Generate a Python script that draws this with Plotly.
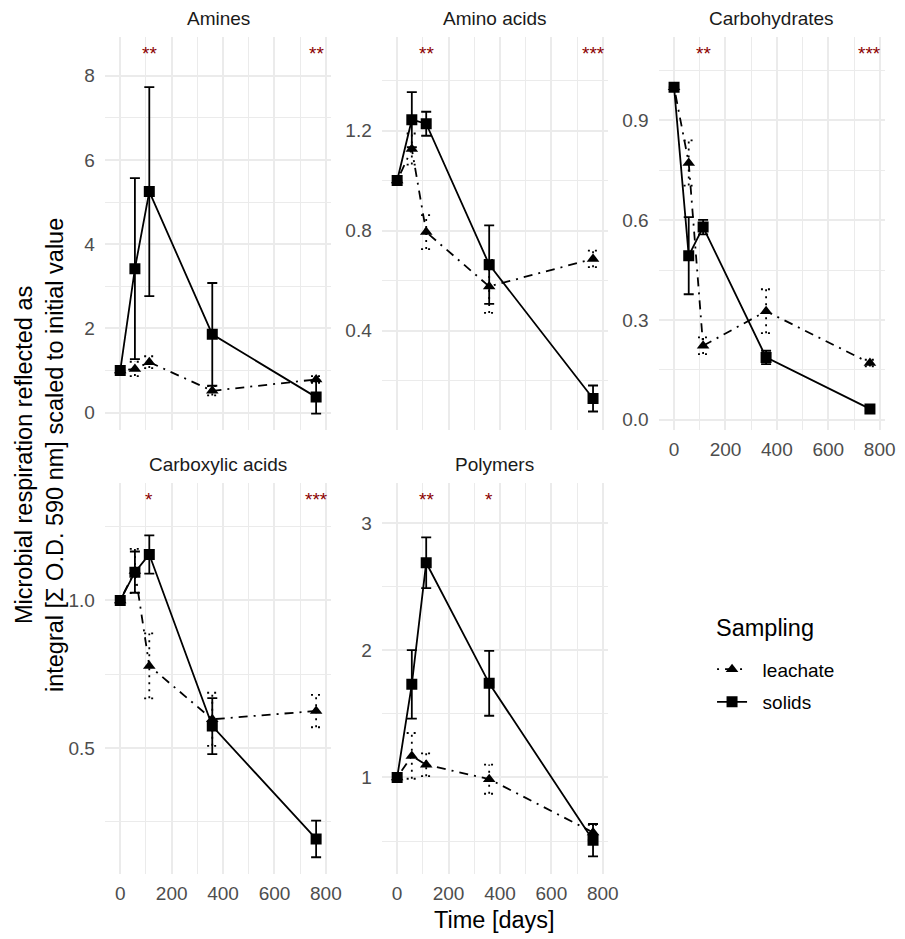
import plotly.graph_objects as go

# Sampling times (days)
days = [0, 57, 113, 358, 762]

# Scaled respiration integrals, mean and error, per substrate group and sampling type
amines_solids = [1.0, 3.42, 5.25, 1.86, 0.37]
amines_solids_err = [0.0, 2.15, 2.48, 1.22, 0.39]
amines_leachate = [1.0, 1.04, 1.20, 0.52, 0.79]
amines_leachate_err = [0.0, 0.17, 0.14, 0.11, 0.08]

amino_solids = [1.0, 1.243, 1.227, 0.664, 0.129]
amino_solids_err = [0.0, 0.11, 0.048, 0.157, 0.052]
amino_leachate = [1.0, 1.126, 0.794, 0.577, 0.687]
amino_leachate_err = [0.0, 0.062, 0.068, 0.106, 0.033]

carbo_solids = [1.0, 0.493, 0.579, 0.187, 0.032]
carbo_solids_err = [0.0, 0.116, 0.022, 0.02, 0.005]
carbo_leachate = [1.0, 0.772, 0.222, 0.326, 0.170]
carbo_leachate_err = [0.0, 0.068, 0.025, 0.066, 0.01]

carboxy_solids = [1.0, 1.096, 1.156, 0.574, 0.191]
carboxy_solids_err = [0.0, 0.07, 0.065, 0.095, 0.062]
carboxy_leachate = [1.0, 1.10, 0.778, 0.597, 0.625]
carboxy_leachate_err = [0.0, 0.075, 0.11, 0.09, 0.055]

poly_solids = [1.0, 1.733, 2.69, 1.741, 0.507]
poly_solids_err = [0.0, 0.27, 0.2, 0.255, 0.127]
poly_leachate = [1.0, 1.17, 1.10, 0.987, 0.568]
poly_leachate_err = [0.0, 0.18, 0.09, 0.115, 0.06]

# Significance markers (time point, label) per group
amines_signif = [(113, "**"), (762, "**")]
amino_signif = [(113, "**"), (762, "***")]
carbo_signif = [(113, "**"), (762, "***")]
carboxy_signif = [(113, "*"), (762, "***")]
poly_signif = [(113, "**"), (358, "*")]

# Y-axis ticks per group
amines_ticks = [0, 2, 4, 6, 8]
amines_ticktext = ["0", "2", "4", "6", "8"]
amino_ticks = [0.4, 0.8, 1.2]
amino_ticktext = ["0.4", "0.8", "1.2"]
carbo_ticks = [0.0, 0.3, 0.6, 0.9]
carbo_ticktext = ["0.0", "0.3", "0.6", "0.9"]
carboxy_ticks = [0.5, 1.0]
carboxy_ticktext = ["0.5", "1.0"]
poly_ticks = [1, 2, 3]
poly_ticktext = ["1", "2", "3"]

x_ticks = [0, 200, 400, 600, 800]
x_ticktext = ["0", "200", "400", "600", "800"]

panels = [
    dict(name="Amines", solids=amines_solids, solids_err=amines_solids_err,
         leach=amines_leachate, leach_err=amines_leachate_err, signif=amines_signif,
         ticks=amines_ticks, ticktext=amines_ticktext, minor=1.0,
         yrange=[-0.40, 8.93], row=0, col=0, xlabels=False),
    dict(name="Amino acids", solids=amino_solids, solids_err=amino_solids_err,
         leach=amino_leachate, leach_err=amino_leachate_err, signif=amino_signif,
         ticks=amino_ticks, ticktext=amino_ticktext, minor=0.2,
         yrange=[0.005, 1.575], row=0, col=1, xlabels=False),
    dict(name="Carbohydrates", solids=carbo_solids, solids_err=carbo_solids_err,
         leach=carbo_leachate, leach_err=carbo_leachate_err, signif=carbo_signif,
         ticks=carbo_ticks, ticktext=carbo_ticktext, minor=0.15,
         yrange=[-0.030, 1.152], row=0, col=2, xlabels=True),
    dict(name="Carboxylic acids", solids=carboxy_solids, solids_err=carboxy_solids_err,
         leach=carboxy_leachate, leach_err=carboxy_leachate_err, signif=carboxy_signif,
         ticks=carboxy_ticks, ticktext=carboxy_ticktext, minor=0.25,
         yrange=[0.072, 1.399], row=1, col=0, xlabels=True),
    dict(name="Polymers", solids=poly_solids, solids_err=poly_solids_err,
         leach=poly_leachate, leach_err=poly_leachate_err, signif=poly_signif,
         ticks=poly_ticks, ticktext=poly_ticktext, minor=0.5,
         yrange=[0.24, 3.319], row=1, col=1, xlabels=True),
]

W, H = 905, 939
col_px = [(106, 335), (386, 615), (666, 895)]
row_px = [(36.7, 430), (483.3, 875)]
x_range = [-60, 821]
cap_days = 20  # half-width of error bar caps, in days

FONT = "Liberation Sans, Arial, Helvetica, sans-serif"
GRID = "#EBEBEB"
TICK_COLOR = "#4D4D4D"
NBSP = "\u00a0"

fig = go.Figure()
layout = dict(
    width=W, height=H,
    margin=dict(l=0, r=0, t=0, b=0),
    paper_bgcolor="white", plot_bgcolor="white",
    font=dict(family=FONT, size=19, color="#1A1A1A"),
    showlegend=True,
    annotations=[],
)

for i, p in enumerate(panels):
    k = "" if i == 0 else str(i + 1)
    xa, ya = "x" + k, "y" + k
    x0, x1 = col_px[p["col"]]
    y0, y1 = row_px[p["row"]]

    layout["xaxis" + k] = dict(
        domain=[x0 / W, x1 / W], anchor=ya, range=x_range,
        tickmode="array", tickvals=x_ticks, ticktext=x_ticktext,
        showticklabels=p["xlabels"], ticks="", ticklabelstandoff=6,
        tickfont=dict(size=19, color=TICK_COLOR, family=FONT),
        showgrid=True, gridcolor=GRID, gridwidth=2,
        minor=dict(tickmode="array", tickvals=[100, 300, 500, 700],
                   showgrid=True, gridcolor=GRID, gridwidth=1),
        zeroline=False, showline=False, fixedrange=True,
    )
    lo, hi = p["yrange"]
    step = p["minor"]
    minor_vals = []
    v = step
    while v < hi:
        if all(abs(v - t) > 1e-9 for t in p["ticks"]):
            minor_vals.append(round(v, 4))
        v += 2 * step
    layout["yaxis" + k] = dict(
        domain=[1 - y1 / H, 1 - y0 / H], anchor=xa, range=p["yrange"],
        tickmode="array", tickvals=p["ticks"], ticktext=p["ticktext"],
        ticks="", ticklabelstandoff=9,
        tickfont=dict(size=19, color=TICK_COLOR, family=FONT),
        showgrid=True, gridcolor=GRID, gridwidth=2,
        minor=dict(tickmode="array", tickvals=minor_vals,
                   showgrid=True, gridcolor=GRID, gridwidth=1),
        zeroline=False, showline=False, fixedrange=True,
    )

    # dotted error bars for leachate
    ex, ey = [], []
    for t, m, e in zip(days, p["leach"], p["leach_err"]):
        ex += [t, t, None, t - cap_days, t + cap_days, None, t - cap_days, t + cap_days, None]
        ey += [m - e, m + e, None, m - e, m - e, None, m + e, m + e, None]
    fig.add_trace(go.Scatter(
        x=ex, y=ey, xaxis=xa, yaxis=ya, mode="lines",
        line=dict(color="black", width=1.8, dash="2px,5px"),
        showlegend=False, hoverinfo="skip",
    ))
    fig.add_trace(go.Scatter(
        x=days, y=p["leach"], xaxis=xa, yaxis=ya, mode="lines+markers",
        name=NBSP * 2 + "leachate", legendgroup="leachate", showlegend=(i == 0),
        line=dict(color="black", width=1.8, dash="2px,6px,9px,6px"),
        marker=dict(symbol="triangle-up", size=11, color="black"),
    ))
    fig.add_trace(go.Scatter(
        x=days, y=p["solids"], xaxis=xa, yaxis=ya, mode="lines+markers",
        name=NBSP * 2 + "solids", legendgroup="solids", showlegend=(i == 0),
        line=dict(color="black", width=1.8),
        marker=dict(symbol="square", size=11, color="black"),
        error_y=dict(type="data", array=p["solids_err"], visible=True,
                     color="black", thickness=1.8, width=5),
    ))

    # facet title
    layout["annotations"].append(dict(
        text=p["name"], xref="paper", yref="paper",
        x=(x0 + x1) / 2 / W, y=1 - (y0 - 18) / H,
        xanchor="center", yanchor="middle", showarrow=False,
        font=dict(size=19, color="#1A1A1A", family=FONT),
    ))
    # significance labels
    for t, lab in p["signif"]:
        layout["annotations"].append(dict(
            text=lab, xref=xa, yref=ya + " domain", x=t, y=0.957,
            xanchor="center", yanchor="middle", showarrow=False,
            font=dict(size=19, color="#8B0000", family=FONT),
        ))

# axis titles
layout["annotations"].append(dict(
    text="Microbial respiration reflected as<br>integral [Σ O.D. 590 nm] scaled to initial value",
    xref="paper", yref="paper", x=40 / W, y=1 - 456 / H,
    xanchor="center", yanchor="middle", textangle=-90, showarrow=False,
    font=dict(size=23.5, color="black", family=FONT),
))
layout["annotations"].append(dict(
    text="Time [days]", xref="paper", yref="paper", x=500.5 / W, y=1 - 921 / H,
    xanchor="center", yanchor="middle", showarrow=False,
    font=dict(size=23.5, color="black", family=FONT),
))
# legend title
layout["annotations"].append(dict(
    text="Sampling", xref="paper", yref="paper", x=722 / W, y=1 - 629 / H,
    xanchor="left", yanchor="middle", showarrow=False,
    font=dict(size=23.5, color="black", family=FONT),
))

layout["legend"] = dict(
    font=dict(size=19, color="black", family=FONT),
    x=720 / W, y=1 - 651 / H, xanchor="left", yanchor="top",
    bgcolor="rgba(0,0,0,0)", itemwidth=30, tracegroupgap=5,
)

fig.update_layout(**layout)
fig.write_html("out.html")
